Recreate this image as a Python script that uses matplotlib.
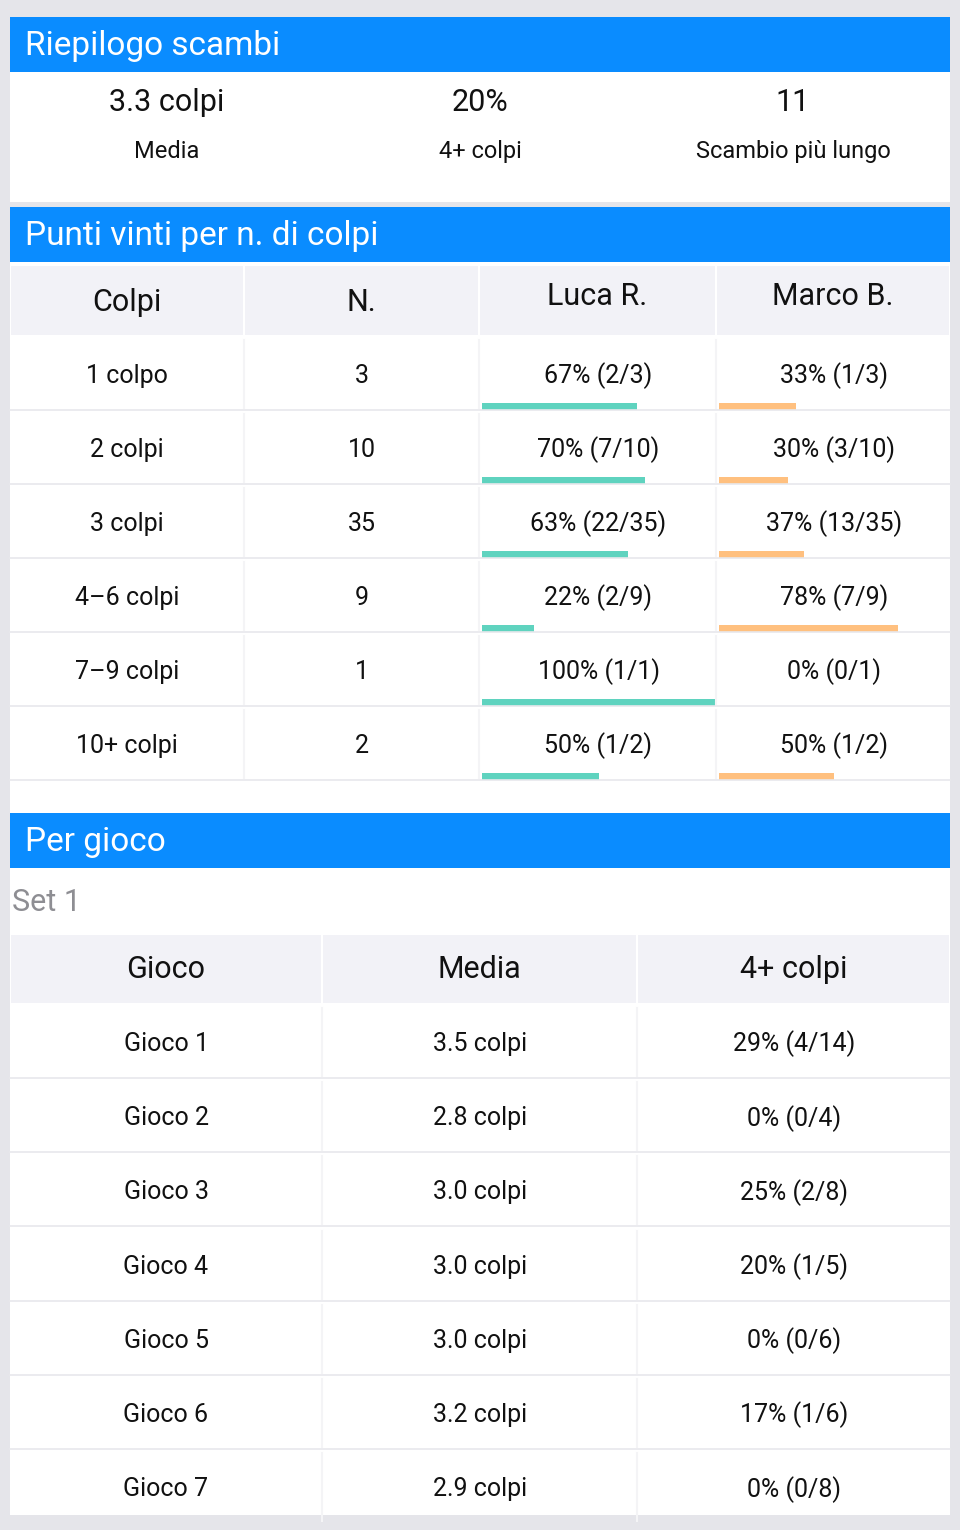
import matplotlib.pyplot as plt
from matplotlib.patches import Rectangle

plt.rcParams['font.family'] = ['Roboto', 'DejaVu Sans']

summary_values = ['3.3 colpi', '20%', '11']
summary_labels = ['Media', '4+ colpi', 'Scambio più lungo']

shot_cols = ['Colpi', 'N.', 'Luca R.', 'Marco B.']
shot_cats = ['1 colpo', '2 colpi', '3 colpi', '4–6 colpi', '7–9 colpi', '10+ colpi']
shot_n = [3, 10, 35, 9, 1, 2]
luca_won = [2, 7, 22, 2, 1, 1]
marco_won = [1, 3, 13, 7, 0, 1]

game_cols = ['Gioco', 'Media', '4+ colpi']
games = ['Gioco 1', 'Gioco 2', 'Gioco 3', 'Gioco 4', 'Gioco 5', 'Gioco 6', 'Gioco 7']
game_avg = [3.5, 2.8, 3.0, 3.0, 3.0, 3.2, 2.9]
game_long = [4, 0, 2, 1, 0, 1, 0]
game_total = [14, 4, 8, 5, 6, 6, 8]

BLUE = '#0a8cff'
HEAD = '#f2f2f7'
LINE = '#e8e8ec'
TEAL = '#5fd3bf'
ORANGE = '#ffc07f'

fig = plt.figure(figsize=(9.6, 15.3), dpi=100)
fig.patch.set_facecolor('#e5e5ea')
ax = fig.add_axes([0, 0, 1, 1])
ax.set_xlim(0, 960)
ax.set_ylim(1530, 0)
ax.axis('off')

def rect(x, y, w, h, c):
    ax.add_patch(Rectangle((x, y), w, h, facecolor=c, edgecolor='none'))

L, R = 10, 950

def header(y, title):
    rect(L, y, R - L, 55, BLUE)
    ax.text(25, y + 29, title, color='white', fontsize=24, va='center', ha='left')

# section 1
header(17, 'Riepilogo scambi')
rect(L, 72, R - L, 130, 'white')
for i, (v, lab) in enumerate(zip(summary_values, summary_labels)):
    cx = [167, 480, 793][i]
    ax.text(cx, 102, v, fontsize=22, ha='center', va='center', color='#111')
    ax.text(cx, 151, lab, fontsize=17, ha='center', va='center', color='#111')

# section 2
header(207, 'Punti vinti per n. di colpi')
rect(L, 262, R - L, 551, 'white')
xs = [10, 244, 479, 716, 950]
for j, col in enumerate(shot_cols):
    x0, x1 = xs[j] + 1, xs[j + 1] - 1
    rect(x0, 266, x1 - x0, 69, HEAD)
    ty = 302 if j < 2 else 296
    ax.text((x0 + x1) / 2, ty, col, fontsize=22, ha='center', va='center', color='#111')
row_h = 74
for i, cat in enumerate(shot_cats):
    y0 = 337 + i * row_h
    ax.plot([L, R], [y0 + row_h - 1, y0 + row_h - 1], color=LINE, lw=1.2)
    for xb in xs[1:-1]:
        ax.plot([xb, xb], [y0 + 3, y0 + row_h - 3], color='#f4f4f6', lw=1.5)
    cy = y0 + 39
    ax.text(127, cy, cat, fontsize=18, ha='center', va='center', color='#111')
    ax.text(362, cy, str(shot_n[i]), fontsize=18, ha='center', va='center', color='#111')
    n = shot_n[i]
    for k, (won, c) in enumerate([(luca_won[i], TEAL), (marco_won[i], ORANGE)]):
        x0 = xs[2 + k] + 3
        w = xs[3 + k] - x0 - 1
        ax.text(x0 + w / 2, cy, f'{round(100 * won / n)}% ({won}/{n})', fontsize=18,
                ha='center', va='center', color='#111')
        ax.barh(y0 + row_h - 5, w * won / n, height=7, left=x0, color=c)

# section 3
header(813, 'Per gioco')
rect(L, 868, R - L, 647, 'white')
ax.text(12, 902, 'Set 1', fontsize=22, ha='left', va='center', color='#8e8e93')
gx = [10, 322, 637, 950]
for j, col in enumerate(game_cols):
    x0, x1 = gx[j] + 1, gx[j + 1] - 1
    rect(x0, 935, x1 - x0, 68, HEAD)
    ax.text((x0 + x1) / 2, 969, col, fontsize=22, ha='center', va='center', color='#111')
for i, g in enumerate(games):
    y0 = 1005 + i * 74.2
    if i < len(games) - 1:
        ax.plot([L, R], [y0 + 73, y0 + 73], color=LINE, lw=1.2)
    for xb in gx[1:-1]:
        ax.plot([xb, xb], [y0 + 3, y0 + 71], color='#f4f4f6', lw=1.5)
    cy = y0 + 39
    ax.text(166, cy, g, fontsize=18, ha='center', va='center', color='#111')
    ax.text(480, cy, f'{game_avg[i]:.1f} colpi', fontsize=18, ha='center', va='center', color='#111')
    t = game_total[i]
    ax.text(794, cy, f'{round(100 * game_long[i] / t)}% ({game_long[i]}/{t})', fontsize=18,
            ha='center', va='center', color='#111')

fig.savefig('out.png', dpi=100)
